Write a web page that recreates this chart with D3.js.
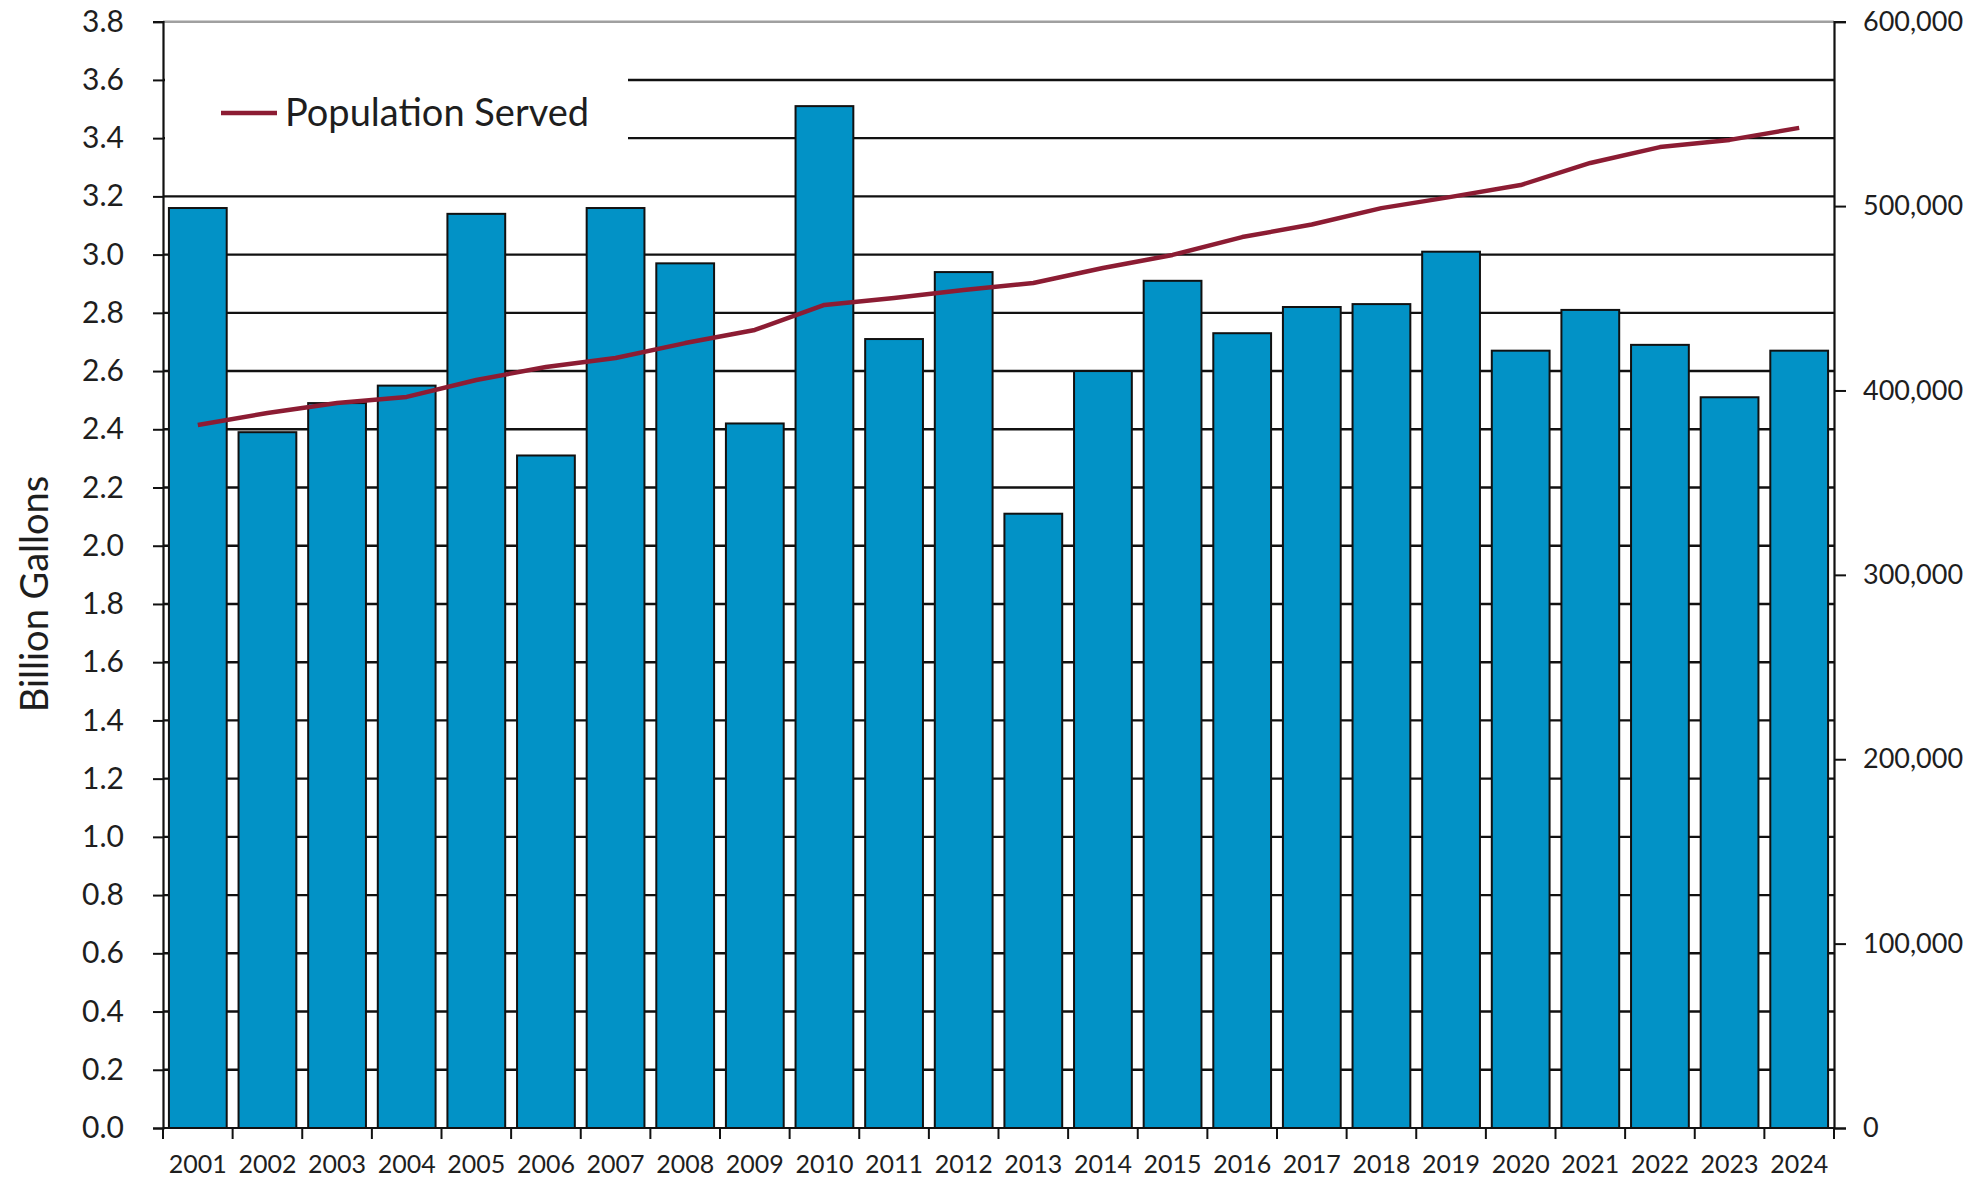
<!DOCTYPE html>
<html>
<head>
<meta charset="utf-8">
<script src="https://cdn.jsdelivr.net/npm/d3@7"></script>
<style>
  html, body { margin: 0; padding: 0; background: #fff; }
  svg { display: block; }
  text { font-family: Lato, "Open Sans", sans-serif; fill: #1e1e1e; }
</style>
</head>
<body>
<svg id="chart" width="1977" height="1178"></svg>
<script>
// Annual water volume (billion gallons) and population served, 2001–2024
const years = ["2001","2002","2003","2004","2005","2006","2007","2008","2009","2010","2011","2012",
               "2013","2014","2015","2016","2017","2018","2019","2020","2021","2022","2023","2024"];
const billionGallons = [3.16, 2.39, 2.49, 2.55, 3.14, 2.31, 3.16, 2.97, 2.42, 3.51, 2.71, 2.94,
                        2.11, 2.60, 2.91, 2.73, 2.82, 2.83, 3.01, 2.67, 2.81, 2.69, 2.51, 2.67];
const populationServed = [381300, 387800, 393200, 396500, 405700, 412700, 417600, 425700, 432800, 446400, 450100, 454500,
                          458300, 466400, 473500, 483200, 490000, 498900, 505000, 511400, 523400, 532000, 535900, 542400];
const leftTicks = d3.range(0, 3.81, 0.2).map(v => +v.toFixed(1));
const rightTicks = [0, 100000, 200000, 300000, 400000, 500000, 600000];
const legendLabel = "Population Served";
const yTitle = "Billion Gallons";

const svg = d3.select("#chart");
const plotLeft = 163, plotRight = 1834, plotTop = 21.7, plotBottom = 1128;

const x = d3.scaleBand().domain(years).range([plotLeft, plotRight]).paddingInner(0.17).paddingOuter(0.085);
const xEdges = d3.scaleBand().domain(years).range([plotLeft, plotRight]).padding(0);
const y = d3.scaleLinear().domain([0, 3.8]).range([plotBottom, plotTop]);
const y2 = d3.scaleLinear().domain([0, 600000]).range([plotBottom, plotTop]);

// horizontal gridlines
svg.append("g").selectAll("line")
  .data(leftTicks.filter(v => v > 0))
  .join("line")
  .attr("x1", plotLeft).attr("x2", plotRight)
  .attr("y1", d => y(d)).attr("y2", d => y(d))
  .attr("stroke", d => d >= 3.8 ? "#a0a0a0" : "#111")
  .attr("stroke-width", 2.4);

// bars
svg.append("g").selectAll("rect")
  .data(years.map((yr, i) => ({ yr, v: billionGallons[i] })))
  .join("rect")
  .attr("x", d => x(d.yr))
  .attr("width", x.bandwidth())
  .attr("y", d => y(d.v))
  .attr("height", d => y(0) - y(d.v))
  .attr("fill", "#0292c6")
  .attr("stroke", "#111")
  .attr("stroke-width", 2);

// legend backdrop
svg.append("rect")
  .attr("x", plotLeft + 2).attr("y", 56)
  .attr("width", 628 - plotLeft - 2).attr("height", 112)
  .attr("fill", "#fff");

// left axis
const gLeft = svg.append("g").attr("transform", `translate(${plotLeft},0)`)
  .call(d3.axisLeft(y).tickValues(leftTicks).tickFormat(d3.format(".1f")).tickSize(10).tickPadding(29));
gLeft.select(".domain").attr("stroke", "#111").attr("stroke-width", 2.2);
gLeft.selectAll(".tick line").attr("stroke", "#111").attr("stroke-width", 2);
gLeft.selectAll(".tick text").style("font-size", "30px").attr("fill", "#1e1e1e");

// right axis
const gRight = svg.append("g").attr("transform", `translate(${plotRight},0)`)
  .call(d3.axisRight(y2).tickValues(rightTicks).tickFormat(d3.format(",")).tickSize(12).tickPadding(17));
gRight.select(".domain").attr("stroke", "#111").attr("stroke-width", 2.2);
gRight.selectAll(".tick line").attr("stroke", "#111").attr("stroke-width", 2);
gRight.selectAll(".tick text").style("font-size", "27px").attr("fill", "#1e1e1e");

// bottom axis: ticks on category boundaries, labels at category centres
const gBottom = svg.append("g").attr("transform", `translate(0,${plotBottom})`);
gBottom.append("line").attr("x1", plotLeft).attr("x2", plotRight).attr("stroke", "#111").attr("stroke-width", 2.2);
gBottom.selectAll("line.tk")
  .data(years.map(yr => xEdges(yr)).concat([plotRight]))
  .join("line").attr("class", "tk")
  .attr("x1", d => d).attr("x2", d => d).attr("y1", 0).attr("y2", 11)
  .attr("stroke", "#111").attr("stroke-width", 2);
gBottom.selectAll("text")
  .data(years)
  .join("text")
  .attr("x", d => xEdges(d) + xEdges.bandwidth() / 2)
  .attr("y", 45)
  .attr("text-anchor", "middle")
  .style("font-size", "25px")
  .text(d => d);

// population line
const line = d3.line()
  .x((d, i) => xEdges(years[i]) + xEdges.bandwidth() / 2)
  .y(d => y2(d));
svg.append("path")
  .datum(populationServed)
  .attr("d", line)
  .attr("fill", "none")
  .attr("stroke", "#8c1c33")
  .attr("stroke-width", 4.5)
  .attr("stroke-linejoin", "round");

// legend
const legend = svg.append("g").attr("transform", "translate(221,113)");
legend.append("line").attr("x1", 0).attr("x2", 56).attr("stroke", "#8c1c33").attr("stroke-width", 4.5);
legend.append("text").attr("x", 64).attr("y", 13).style("font-size", "38px").text(legendLabel);

// y axis title
svg.append("text")
  .attr("transform", "translate(48,594) rotate(-90)")
  .attr("text-anchor", "middle")
  .style("font-size", "38px")
  .text(yTitle);
</script>
</body>
</html>
